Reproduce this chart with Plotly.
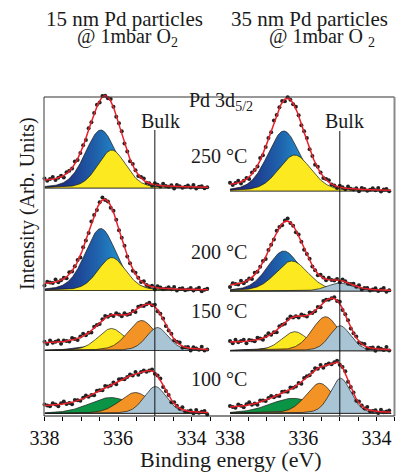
import numpy as np
import plotly.graph_objects as go

# ---------------- data ----------------
# heights / offsets are in intensity units (arbitrary), binding energies in eV
TEMPS = ["250 °C", "200 °C", "150 °C", "100 °C"]

# left panel: 15 nm particles
L_BASE = [228, 125.5, 65.5, 2.5]      # baseline of each stacked spectrum
L_STEP = [6, 5, 7, 7]                 # Shirley background step
L_COMPS = [
    [("blue", 336.47, 58, 1.00), ("yellow", 336.17, 38, 0.90)],
    [("blue", 336.47, 62, 1.00), ("yellow", 336.17, 33, 0.90)],
    [("blue", 336.55, 5, 1.20), ("yellow", 336.18, 22, 0.87),
     ("orange", 335.36, 30, 0.90), ("lightblue", 334.93, 23, 0.70)],
    [("green", 336.20, 16, 1.40), ("orange", 335.53, 21, 1.00),
     ("lightblue", 334.99, 27, 0.72)],
]

# right panel: 35 nm particles
R_BASE = [225, 125, 65.3, 2.7]
R_STEP = [4, 4, 8, 5]
R_COMPS = [
    [("blue", 336.53, 60, 1.05), ("yellow", 336.23, 36, 1.05)],
    [("blue", 336.53, 40, 1.05), ("yellow", 336.31, 30, 1.05),
     ("lightblue", 335.00, 8, 0.80)],
    [("blue", 336.46, 5, 1.20), ("yellow", 336.23, 19, 0.85),
     ("orange", 335.39, 34, 0.88), ("lightblue", 334.99, 25, 0.68)],
    [("green", 336.28, 15, 1.50), ("orange", 335.55, 30, 0.90),
     ("lightblue", 334.98, 35, 0.66)],
]

# measured-point scatter around the fit (estimated residuals)
NOISE = [1.5, -1.0, 0.5, 2.0, -1.5, 0.0, 1.0, -2.0, 1.5, 0.5, -0.5, 2.5, -1.0,
         0.0, 1.0, -1.5, 2.0, -0.5, 0.5, 1.5, -2.0, 1.0, 0.0, -1.0, 2.0, 0.5,
         -1.5, 1.0, 2.5, -0.5, 0.0, -2.0, 1.5, 0.5, -1.0, 1.0, 2.0, -0.5, 0.0,
         -1.5, 1.5, 0.5, -1.0, 2.0, 0.0, -0.5, 1.0, -2.0, 1.5, 0.5, -1.0, 0.0,
         1.5, -0.5, 2.0, -1.5, 0.5, 1.0, -1.0, 0.0]

X_TICKS = [338, 337.5, 337, 336.5, 336, 335.5, 335, 334.5, 334, 333.5]
X_TICKTEXT = ["338", "", "", "", "336", "", "", "", "334", ""]
BULK_BE = 335.0

COLORS = {"yellow": "#fde91f", "orange": "#f39326", "lightblue": "#a9c5d5",
          "green": "#0c9446"}
BLUE_SCALE = [[0, "#25a8de"], [0.45, "#1f63ad"], [1, "#1c2278"]]
ORDER = ["blue", "yellow", "green", "orange", "lightblue"]

SERIF = "Liberation Serif"
W, H = 398, 472
TOP_M, BOT_M = 80, 56
PLOT_H = H - TOP_M - BOT_M


def pv(x, c, h, w, eta=0.25):
    t = (x - c) / w
    return h * ((1 - eta) * np.exp(-4 * np.log(2) * t ** 2) + eta / (1 + 4 * t ** 2))


def px_x(px):
    return px / W


def px_y(py):
    return (TOP_M + PLOT_H - py) / PLOT_H


fig = go.Figure()


def add_panel(xaxis, bases, steps, comps_list, x_end):
    xf = np.linspace(338, x_end, 450)
    xd = np.arange(338, x_end - 1e-6, -0.075)
    for k in range(4):
        base = bases[k]
        comps = sorted(comps_list[k], key=lambda c: ORDER.index(c[0]))
        tot_f = sum(pv(xf, c, h, w) for _, c, h, w in comps)
        cum = np.cumsum(tot_f[::-1])[::-1]
        bg_f = steps[k] * cum / cum[0]
        fit = base + tot_f + bg_f
        for name, c, h, w in comps:
            yc = base + pv(xf, c, h, w)
            px_ = np.concatenate([xf, xf[::-1]])
            py_ = np.concatenate([yc, np.full_like(xf, base)])
            tr = dict(x=px_, y=py_, mode="lines", fill="toself",
                      line=dict(color="#1a1a1a", width=0.7),
                      xaxis=xaxis, yaxis="y", hoverinfo="skip")
            if name == "blue":
                tr["fillgradient"] = dict(type="horizontal", colorscale=BLUE_SCALE,
                                          start=c - 0.9, stop=c + 1.3)
                tr["fillcolor"] = "#1f63ad"
            else:
                tr["fillcolor"] = COLORS[name]
            fig.add_trace(go.Scatter(**tr))
        # measured points
        tot_d = sum(pv(xd, c, h, w) for _, c, h, w in comps)
        bg_d = np.interp(xd[::-1], xf[::-1], bg_f[::-1])[::-1]
        nz = np.array([NOISE[(i + 7 * k) % len(NOISE)] for i in range(len(xd))])
        yd = base + tot_d + bg_d + nz
        fig.add_trace(go.Scatter(x=xd, y=yd, mode="markers", xaxis=xaxis, yaxis="y",
                                 marker=dict(color="#222222", size=4),
                                 cliponaxis=False, hoverinfo="skip"))
        fig.add_trace(go.Scatter(x=xf, y=fit, mode="lines", xaxis=xaxis, yaxis="y",
                                 line=dict(color="#e8212b", width=1.5),
                                 hoverinfo="skip"))


add_panel("x", L_BASE, L_STEP, L_COMPS, 333.55)
add_panel("x2", R_BASE, R_STEP, R_COMPS, 333.6)

axis_common = dict(range=[338, 333.5], tickmode="array", tickvals=X_TICKS,
                   ticktext=X_TICKTEXT, ticks="outside", ticklen=4, tickwidth=1,
                   tickcolor="#000", showgrid=False, zeroline=False, showline=False,
                   automargin=False,
                   tickfont=dict(family=SERIF, size=20, color="#111"), anchor="y")

fig.update_layout(
    width=W, height=H, margin=dict(l=0, r=0, t=TOP_M, b=BOT_M, autoexpand=False),
    plot_bgcolor="white", paper_bgcolor="white", showlegend=False,
    font=dict(family=SERIF),
    xaxis=dict(domain=[px_x(44.5), px_x(210)], **axis_common),
    xaxis2=dict(domain=[px_x(230), px_x(394.7)], **axis_common),
    yaxis=dict(domain=[0, 1], range=[0, PLOT_H], visible=False, automargin=False),
)

top = px_y(97)
shapes = [
    dict(type="line", xref="paper", yref="paper", x0=px_x(44), x1=px_x(44), y0=0, y1=top,
         line=dict(color="#7a7a7a", width=1.5)),
    dict(type="line", xref="paper", yref="paper", x0=px_x(44), x1=px_x(394.5), y0=top, y1=top,
         line=dict(color="#333", width=1.2)),
    dict(type="line", xref="paper", yref="paper", x0=px_x(394.5), x1=px_x(394.5), y0=0, y1=top,
         line=dict(color="#8a8a8a", width=2)),
    dict(type="line", xref="paper", yref="paper", x0=px_x(44), x1=px_x(394.5), y0=0, y1=0,
         line=dict(color="#111", width=1.2)),
    dict(type="line", xref="x", yref="y", x0=BULK_BE, x1=BULK_BE, y0=0, y1=416 - 130,
         line=dict(color="#111", width=1)),
    dict(type="line", xref="x2", yref="y", x0=BULK_BE, x1=BULK_BE, y0=0, y1=416 - 131,
         line=dict(color="#111", width=1)),
]
fig.update_layout(shapes=shapes)

annots = []


def ann(text, xp, yp, size=20, angle=0):
    annots.append(dict(text=text, x=px_x(xp), y=px_y(yp), xref="paper", yref="paper",
                       showarrow=False, xanchor="center", yanchor="middle",
                       textangle=angle, font=dict(family=SERIF, size=size, color="#1a1a1a")))


ann("15 nm Pd particles", 124, 19, 21)
ann("@ 1mbar O<sub>2</sub>", 127, 37, 20)
ann("35 nm Pd particles", 309, 19, 21)
ann("@ 1mbar O <sub>2</sub>", 322, 37, 20)
ann("Pd 3d<sub>5/2</sub>", 221, 101, 20)
ann("Bulk", 160, 121, 20)
ann("Bulk", 344, 121, 20)
for t, yy in zip(TEMPS, [156, 252, 311, 379]):
    ann(t, 219, yy, 20)
ann("Binding energy (eV)", 231, 459, 22)
ann("Intensity (Arb. Units)", 27, 204, 20, -90)
fig.update_layout(annotations=annots)

fig.write_html("out.html")
